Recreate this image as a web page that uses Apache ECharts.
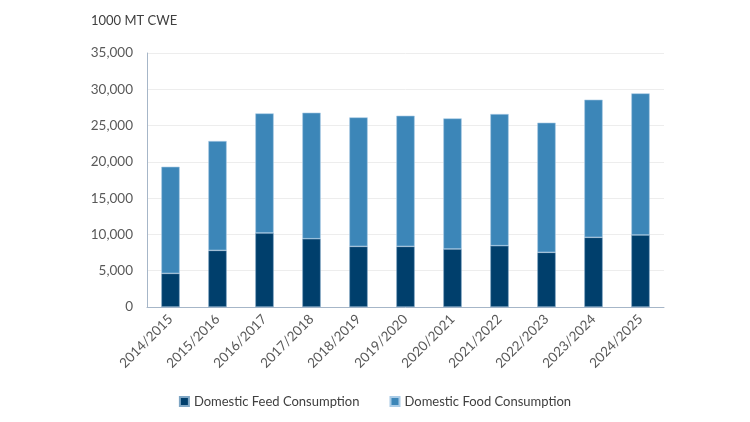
<!DOCTYPE html>
<html>
<head>
<meta charset="utf-8">
<script src="https://cdn.jsdelivr.net/npm/echarts@6/dist/echarts.min.js"></script>
<style>html,body{margin:0;padding:0;background:#fff;}#c{width:750px;height:422px;}</style>
</head>
<body>
<div id="c"></div>
<script>
var categories = ['2014/2015','2015/2016','2016/2017','2017/2018','2018/2019','2019/2020','2020/2021','2021/2022','2022/2023','2023/2024','2024/2025'];
var feed = [4630, 7800, 10200, 9410, 8350, 8350, 7990, 8450, 7530, 9600, 9920];
var food = [14700, 15070, 16480, 17370, 17780, 18010, 18000, 18140, 17870, 18970, 19520];
var yTicks = [0, 5000, 10000, 15000, 20000, 25000, 30000, 35000];

var chart = echarts.init(document.getElementById('c'));
var font = 'Lato, "Open Sans", sans-serif';
chart.setOption({
  animation: false,
  textStyle: {fontFamily: font},
  title: {text: '1000 MT CWE', left: 86, top: 9, textStyle: {fontSize: 13, fontWeight: 'normal', color: '#404040', fontFamily: font}},
  legend: {
    bottom: 9, left: 'center', itemWidth: 9, itemHeight: 9, itemGap: 30,
    icon: 'rect',
    textStyle: {fontSize: 13, color: '#404040', fontFamily: font},
    data: ['Domestic Feed Consumption', 'Domestic Food Consumption']
  },
  grid: {left: 147, right: 86, top: 53, bottom: 115},
  xAxis: {
    type: 'category', data: categories,
    axisLine: {lineStyle: {color: '#a6b6c8'}},
    axisTick: {show: false},
    axisLabel: {rotate: 45, fontSize: 13.5, color: '#595959', margin: 10, fontFamily: font}
  },
  yAxis: {
    type: 'value', min: yTicks[0], max: yTicks[yTicks.length - 1], interval: 5000,
    axisLine: {show: true, lineStyle: {color: '#a6b6c8'}},
    axisTick: {show: false},
    splitLine: {lineStyle: {color: '#ededed'}},
    axisLabel: {fontSize: 13.5, color: '#595959', margin: 14, fontFamily: font,
      formatter: function (v) { return v.toLocaleString('en-US'); }}
  },
  series: [
    {name: 'Domestic Feed Consumption', type: 'bar', stack: 'a', data: feed, barWidth: '39%',
      itemStyle: {color: '#003f6c', borderColor: '#7fa6c4', borderWidth: 0.6}},
    {name: 'Domestic Food Consumption', type: 'bar', stack: 'a', data: food, barWidth: '39%',
      itemStyle: {color: '#3c86b8', borderColor: '#a9cbe6', borderWidth: 0.6}}
  ]
});
</script>
</body>
</html>
